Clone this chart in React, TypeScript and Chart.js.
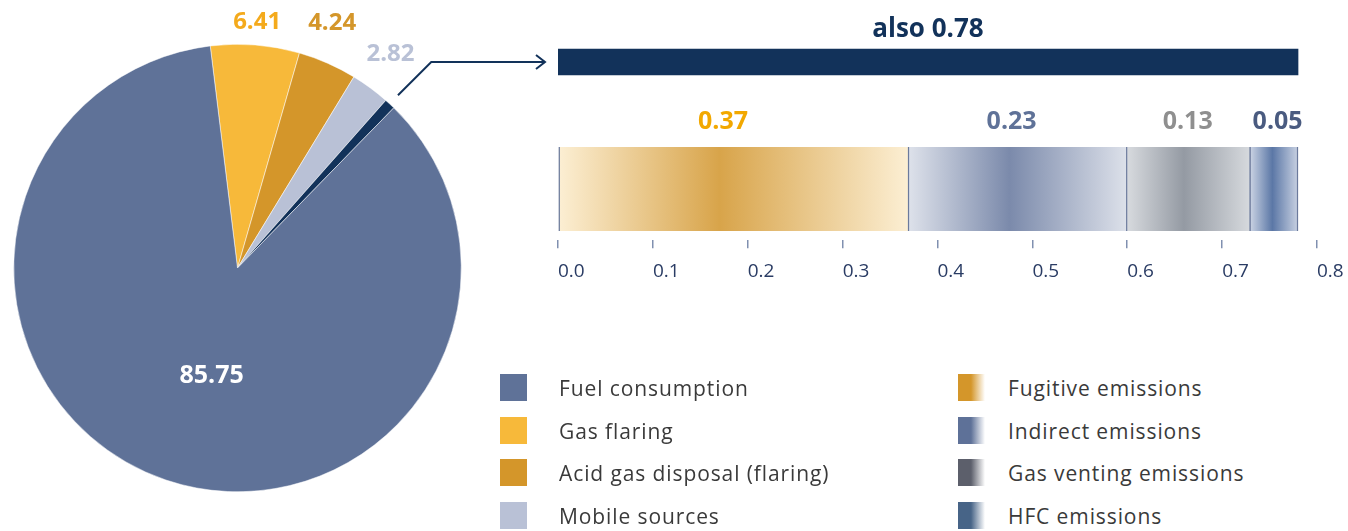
import React, { useEffect, useRef } from "react";
import { Chart, registerables } from "chart.js";

Chart.register(...registerables);

const FONT = "'Open Sans', 'Noto Sans', sans-serif";
Chart.defaults.font.family = FONT;

// ---------- Pie data ----------
const pieCategories = ["Gas flaring", "Acid gas disposal (flaring)", "Mobile sources", "also", "Fuel consumption"];
const pieValues = [6.41, 4.24, 2.82, 0.78, 85.75];
const pieValueText = ["6.41", "4.24", "2.82", "", "85.75"];
const pieColors = ["#F7B93A", "#D4962A", "#B9C1D6", "#12325A", "#5F7298"];
const pieLabelColors = ["#F4AA1C", "#D4962A", "#B9C1D6", "#12325A", "#FFFFFF"];
const pieLabelRadius = [1.11, 1.18, 1.18, 0, 0.49];
const pieLabelAngleShift = [0, -2.7, -1, 0, -5];
const pieLabelSize = [24, 24, 24, 0, 25];

// ---------- Breakdown data ----------
const alsoCategory = "also";
const alsoValue = 0.78;
const breakdownCategories = ["Fugitive emissions", "Indirect emissions", "Gas venting emissions", "HFC emissions"];
const breakdownValues = [0.37, 0.23, 0.13, 0.05];
const breakdownText = ["0.37", "0.23", "0.13", "0.05"];
const breakdownEdgeColors = ["#FCEFD4", "#DDE1EA", "#D7DADE", "#C8D1E2"];
const breakdownPeakColors = ["#D8A44A", "#7B8AAB", "#949AA3", "#5B77A6"];
const breakdownLabelColors = ["#F2A800", "#5F7298", "#8F8F8F", "#4A5B80"];
const breakdownLabelPos = [0.47, 0.47, 0.49, 0.57];
const axisMin = 0;
const axisMax = 0.8;
const axisStep = 0.1;

// ---------- Legend ----------
const legendLeft = [
  { label: "Fuel consumption", color: "#5F7298", fade: false },
  { label: "Gas flaring", color: "#F7B93A", fade: false },
  { label: "Acid gas disposal (flaring)", color: "#D4962A", fade: false },
  { label: "Mobile sources", color: "#B9C1D6", fade: false },
];
const legendRight = [
  { label: "Fugitive emissions", color: "#D4962A", fade: true },
  { label: "Indirect emissions", color: "#5E7198", fade: true },
  { label: "Gas venting emissions", color: "#5C5F6B", fade: true },
  { label: "HFC emissions", color: "#476487", fade: true },
];

const NAVY = "#12325A";
const ARROW_Y = 62;
const ARROW_END_X = 545;

const PieChart: React.FC = () => {
  const ref = useRef<HTMLCanvasElement>(null);
  useEffect(() => {
    if (!ref.current) return;
    const labelPlugin = {
      id: "pieLabels",
      afterDatasetsDraw(chart: any) {
        const ctx = chart.ctx;
        const meta = chart.getDatasetMeta(0);
        ctx.save();
        meta.data.forEach((arc: any, i: number) => {
          if (!pieValueText[i]) return;
          const mid = (arc.startAngle + arc.endAngle) / 2 + (pieLabelAngleShift[i] * Math.PI) / 180;
          const r = arc.outerRadius * pieLabelRadius[i];
          const cx = arc.x + r * Math.cos(mid);
          const cy = arc.y + r * Math.sin(mid);
          const size = pieLabelSize[i];
          ctx.font = `bold ${size}px ${FONT}`;
          ctx.fillStyle = pieLabelColors[i];
          ctx.textAlign = "center";
          ctx.textBaseline = "alphabetic";
          ctx.fillText(pieValueText[i], cx, cy + size * 0.357);
        });
        // arrow from the small "also" slice to the breakdown bar
        const arc: any = meta.data[3];
        const mid = (arc.startAngle + arc.endAngle) / 2;
        const r0 = arc.outerRadius + 12;
        const sx = arc.x + r0 * Math.cos(mid);
        const sy = arc.y + r0 * Math.sin(mid);
        const ex = sx + (sy - ARROW_Y);
        ctx.strokeStyle = NAVY;
        ctx.lineWidth = 2;
        ctx.lineJoin = "miter";
        ctx.beginPath();
        ctx.moveTo(sx, sy);
        ctx.lineTo(ex, ARROW_Y);
        ctx.lineTo(ARROW_END_X, ARROW_Y);
        ctx.stroke();
        ctx.beginPath();
        ctx.moveTo(ARROW_END_X - 9, ARROW_Y - 7);
        ctx.lineTo(ARROW_END_X, ARROW_Y);
        ctx.lineTo(ARROW_END_X - 9, ARROW_Y + 7);
        ctx.stroke();
        ctx.restore();
      },
    };
    const chart = new Chart(ref.current, {
      type: "pie",
      data: {
        labels: pieCategories,
        datasets: [
          {
            data: pieValues,
            backgroundColor: pieColors,
            borderColor: "#FFFFFF",
            borderWidth: 0.5,
          },
        ],
      },
      options: {
        responsive: false,
        animation: false,
        rotation: -7,
        layout: { padding: { left: 0, right: 85, top: 44, bottom: 39 } },
        plugins: { legend: { display: false }, tooltip: { enabled: false } },
      },
      plugins: [labelPlugin],
    } as any);
    return () => chart.destroy();
  }, []);
  return (
    <canvas
      ref={ref}
      width={560}
      height={531}
      style={{ position: "absolute", left: 0, top: 0, width: 560, height: 531 }}
    />
  );
};

const AlsoBar: React.FC = () => {
  const ref = useRef<HTMLCanvasElement>(null);
  useEffect(() => {
    if (!ref.current) return;
    const labelPlugin = {
      id: "alsoLabel",
      afterDatasetsDraw(chart: any) {
        const ctx = chart.ctx;
        const bar: any = chart.getDatasetMeta(0).data[0];
        const xs = chart.scales.x;
        const x0 = xs.getPixelForValue(0);
        const x1 = xs.getPixelForValue(alsoValue);
        ctx.save();
        ctx.font = `bold 26px ${FONT}`;
        ctx.fillStyle = NAVY;
        ctx.textAlign = "center";
        ctx.textBaseline = "alphabetic";
        ctx.fillText(`${alsoCategory} ${alsoValue.toFixed(2)}`, (x0 + x1) / 2, bar.y - 13 - 12.5);
        ctx.restore();
      },
    };
    const chart = new Chart(ref.current, {
      type: "bar",
      data: {
        labels: [alsoCategory],
        datasets: [{ data: [alsoValue], backgroundColor: NAVY, barThickness: 26, borderWidth: 0 }],
      },
      options: {
        indexAxis: "y",
        responsive: false,
        animation: false,
        layout: { padding: { left: 40, right: 31, top: 44, bottom: 0 } },
        scales: {
          x: { min: axisMin, max: axisMax, display: false },
          y: { display: false },
        },
        plugins: { legend: { display: false }, tooltip: { enabled: false } },
      },
      plugins: [labelPlugin],
    } as any);
    return () => chart.destroy();
  }, []);
  return (
    <canvas
      ref={ref}
      width={830}
      height={80}
      style={{ position: "absolute", left: 518, top: 0, width: 830, height: 80 }}
    />
  );
};

const BreakdownBar: React.FC = () => {
  const ref = useRef<HTMLCanvasElement>(null);
  useEffect(() => {
    if (!ref.current) return;
    const starts: number[] = [];
    breakdownValues.reduce((acc, v) => {
      starts.push(acc);
      return acc + v;
    }, 0);
    const gradientFor = (i: number) => (c: any) => {
      const chart = c.chart;
      if (!chart.chartArea || !chart.scales.x) return breakdownPeakColors[i];
      const xs = chart.scales.x;
      const x0 = xs.getPixelForValue(starts[i]);
      const x1 = xs.getPixelForValue(starts[i] + breakdownValues[i]);
      const g = chart.ctx.createLinearGradient(x0, 0, x1, 0);
      g.addColorStop(0, breakdownEdgeColors[i]);
      g.addColorStop(0.46, breakdownPeakColors[i]);
      g.addColorStop(1, breakdownEdgeColors[i]);
      return g;
    };
    const labelPlugin = {
      id: "segLabels",
      afterDatasetsDraw(chart: any) {
        const ctx = chart.ctx;
        const xs = chart.scales.x;
        ctx.save();
        ctx.font = `bold 25px ${FONT}`;
        ctx.textAlign = "center";
        ctx.textBaseline = "alphabetic";
        breakdownValues.forEach((v, i) => {
          const bar: any = chart.getDatasetMeta(i).data[0];
          const x0 = xs.getPixelForValue(starts[i]);
          const x1 = xs.getPixelForValue(starts[i] + v);
          ctx.fillStyle = breakdownLabelColors[i];
          ctx.fillText(breakdownText[i], x0 + (x1 - x0) * breakdownLabelPos[i], bar.y - 42 - 18.5);
        });
        ctx.restore();
      },
    };
    const chart = new Chart(ref.current, {
      type: "bar",
      data: {
        labels: ["breakdown"],
        datasets: breakdownValues.map((v, i) => ({
          label: breakdownCategories[i],
          data: [v],
          backgroundColor: gradientFor(i),
          borderColor: "#6B7A9C",
          borderWidth: { left: i === 0 ? 1.5 : 0, right: 1.5, top: 0, bottom: 0 },
          borderSkipped: false,
          barThickness: 84,
        })),
      },
      options: {
        indexAxis: "y",
        responsive: false,
        animation: false,
        layout: { padding: { left: 40, right: 61, top: 43, bottom: 0 } },
        scales: {
          x: {
            stacked: true,
            min: axisMin,
            max: axisMax,
            border: { display: false },
            grid: {
              drawOnChartArea: false,
              drawTicks: true,
              tickLength: 8,
              color: "#8090B0",
              lineWidth: 1.5,
            },
            ticks: {
              stepSize: axisStep,
              align: "start",
              padding: 12,
              color: "#2A3C64",
              font: { size: 19, family: FONT },
              callback: (v: any) => Number(v).toFixed(1),
            },
          },
          y: { stacked: true, display: false },
        },
        plugins: { legend: { display: false }, tooltip: { enabled: false } },
      },
      plugins: [labelPlugin],
    } as any);
    return () => chart.destroy();
  }, []);
  return (
    <canvas
      ref={ref}
      width={860}
      height={200}
      style={{ position: "absolute", left: 518, top: 95, width: 860, height: 200 }}
    />
  );
};

const LegendColumn: React.FC<{ items: { label: string; color: string; fade: boolean }[]; left: number; textLeft: number }> = ({ items, left, textLeft }) => {
  const tops = [374, 417, 459, 502];
  return (
    <>
      {items.map((it, i) => (
        <div key={it.label} style={{ position: "absolute", left, top: tops[i], height: 27, width: 400 }}>
          <div
            style={{
              position: "absolute",
              left: 0,
              top: 0,
              width: 27,
              height: 27,
              background: it.fade
                ? `linear-gradient(to right, ${it.color} 0%, ${it.color} 48%, #FFFFFF 100%)`
                : it.color,
            }}
          />
          <div
            style={{
              position: "absolute",
              left: textLeft - left,
              top: 1,
              height: 27,
              lineHeight: "27px",
              fontFamily: FONT,
              fontSize: 21,
              letterSpacing: "0.9px",
              color: "#3A3A3A",
              whiteSpace: "nowrap",
            }}
          >
            {it.label}
          </div>
        </div>
      ))}
    </>
  );
};

export default function App() {
  return (
    <div style={{ position: "absolute", left: 0, top: 0, width: 1348, height: 531, overflow: "hidden", background: "#FFFFFF" }}>
      <PieChart />
      <AlsoBar />
      <BreakdownBar />
      <LegendColumn items={legendLeft} left={500} textLeft={559} />
      <LegendColumn items={legendRight} left={958} textLeft={1008} />
    </div>
  );
}
